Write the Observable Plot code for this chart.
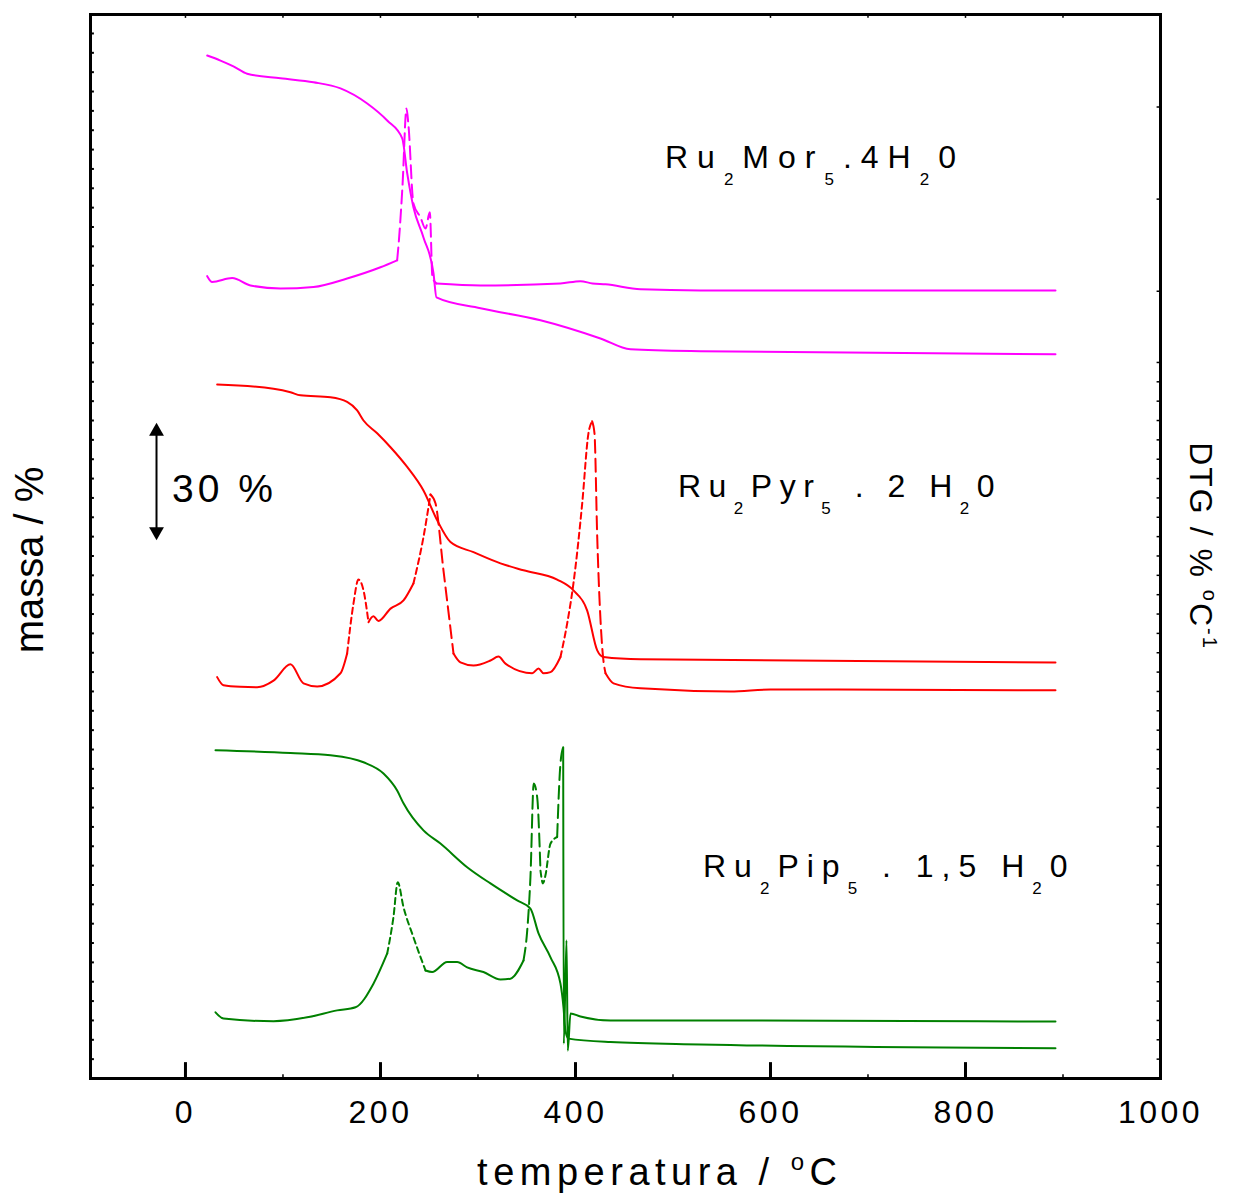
<!DOCTYPE html>
<html><head><meta charset="utf-8">
<script src="https://cdn.jsdelivr.net/npm/d3@7"></script>
<script src="https://cdn.jsdelivr.net/npm/@observablehq/plot@0.6"></script>
<style>
html,body{margin:0;padding:0;background:#fff;}
#chart svg{display:block;}
#chart g[aria-label="x-axis tick label"] text{letter-spacing:3.5px;}
#chart text{white-space:pre;}
</style></head><body><div id="chart"></div>
<script>
// temperature (°C) and signal (mass-% scale, curves offset vertically)
const morTG_T = [22.3,35.9,49.2,63.3,97.4,131.3,159,186.4,206.9,222.3,227.4,233.8,244.1,254.4,257.4,302.6,364.1,425.6,456.4,528.2,892.3];
const morTG_v = [264.3,263.0,261.5,259.6,258.4,257.4,255.8,251.9,247.5,242.9,233.9,225.1,217.3,208.0,201.8,199.0,195.9,191.2,188.4,187.9,187.1];

const morDTG_T = [22.3,27.4,47.9,66.7,97.4,131.3,165.8,200,217.1,218.9,222.6,226.7,228.7,233.8,241,246.2,250.6,253.3,257.4,302.6,384.6,405.1,417.4,430.8,466.7,528.2,892.3];
const morDTG_v = [207.3,205.8,206.8,204.9,204.1,204.5,206.7,209.6,211.4,216.5,230.7,250.6,246.3,226.1,222.5,219.6,223.8,207.0,205.4,204.9,205.4,206.0,205.4,205.2,203.9,203.6,203.6];
const morDTG_style = "ssssssss" + "DDDDDDDDDD" + "ssssssss";

const pyrTG_T = [32.5,90.3,107.7,117.9,148.7,165.8,176.1,182.6,196.6,210.3,227.4,244.1,258.2,271.8,295.4,323.1,346.7,381.2,397.9,412,422.3,428.7,466.7,892.3];
const pyrTG_v = [179.3,178.2,177.3,176.5,176.0,174.8,172.6,170.0,166.7,163.1,158.0,151.9,144.2,138.6,136.0,133.1,131.3,128.9,126.1,120.9,110.6,108.9,108.3,107.5];

const pyrDTG_T = [32.5,39,56.4,73.5,90.3,107.7,121,135.1,159,165.8,172.3,177.4,182.6,187.7,192.8,197.9,210.3,223.6,233.8,244.1,251.3,256.4,264.6,274.9,282,295.4,312.8,321,328.2,355.6,362.1,367.2,374.4,384.6,391.5,397.9,406.9,413.3,417.1,419.5,422.3,427.4,430.8,439,466.7,559,600,892.3];
const pyrDTG_v = [103.7,101.6,101.2,101.1,102.8,107.0,102.1,101.3,104.7,109.8,122.7,128.9,126.1,117.9,119.4,118.2,121.4,123.5,127.9,139.9,150.9,148.6,131.3,109.8,107.5,106.7,108.0,109.0,107.2,104.7,105.9,104.7,105.0,108.9,117.6,127.9,148.6,166.7,169.8,166.7,139.9,111.4,104.7,102.1,100.8,100.0,100.5,100.3];
const pyrDTG_style = "sssssssss" + "dddd" + "sssss" + "ddDDD" + "ssssssssss" + "ddddd" + "DDDD" + "sssss";

const pipTG_T = [30.8,107.7,148.7,182.6,203.1,217.1,223.6,244.1,261.5,288.9,312.8,340.2,353.8,362.1,374.4,384.6,387.7,389.7,392.8,435.9,528.2,892.3];
const pipTG_v = [84.8,84.1,83.5,81.7,78.8,74.4,71.1,64.1,60.7,54.6,50.4,46.0,43.9,37.5,31.3,24.5,18.4,12.4,10.3,9.4,8.8,7.8];

const pipDTG_T = [30.8,39,90.3,124.8,155.6,174.4,192.8,206.9,213.3,217.7,223.6,233.8,246.2,253,268.4,278.7,288.9,305.6,323.1,333.3,346.7,350.5,353.8,357.2,360.7,364.1,366.7,369.2,374.4,381.2,384.6,387.4,388,390.8,392.1,394.9,405.1,435.9,528.2,892.3];
const pipDTG_v = [17.1,15.5,14.8,15.8,17.6,18.4,24.5,32.3,41.7,50.7,44.3,36.5,27.9,27.5,30.1,30.1,28.7,27.5,25.6,25.8,30.5,38.2,52.0,76.2,72.7,53.7,50.4,52.5,60.7,62.4,81.4,85.6,9.0,35.7,7.2,16.8,16.0,15.0,15.0,14.7];
const pipDTG_style = "sssssss" + "ddddd" + "ssssssss" + "DDDDDddddDD" + "ssssssss";

const colors = {mor: "#ff00ff", pyr: "#ff0000", pip: "#008000"};

const xMajor = [0, 200, 400, 600, 800, 1000];
const xMinor = [100, 300, 500, 700, 900];
const xTop = [0, 100, 200, 300, 400, 500, 600, 700, 800, 900];
const leftTicks = d3.range(5, 275, 5);
const rightTicks = d3.range(5, 190, 5).concat([203.4, 227.2, 251.0]);

function pts(T, v) { return T.map((t, i) => ({T: t, v: v[i]})); }
function segs(T, v, style) {
  const out = [];
  let id = 0;
  for (let i = 0; i < T.length - 1; i++) {
    if (i > 0 && style[i] !== style[i - 1]) id++;
    if (i === 0 || style[i] !== style[i - 1]) out.push({T: T[i], v: v[i], seg: id, s: style[i]});
    out.push({T: T[i + 1], v: v[i + 1], seg: id, s: style[i]});
  }
  return out;
}
const dash = {s: null, d: "6,4", D: "13,6"};
function dtgMarks(T, v, style, color) {
  const data = segs(T, v, style);
  return ["s", "d", "D"].map(k => Plot.line(data.filter(d => d.s === k), {
    x: "T", y: "v", z: "seg", stroke: color, strokeWidth: 2, curve: "monotone-x",
    strokeDasharray: dash[k] || undefined
  }));
}

const xmin = -97.4, xmax = 1000, ymin = 0, ymax = 274.9;

const plot = Plot.plot({
  width: 1237, height: 1193,
  marginLeft: 90, marginRight: 77, marginTop: 14, marginBottom: 115,
  x: {domain: [xmin, xmax], axis: null},
  y: {domain: [ymin, ymax], axis: null},
  style: {fontFamily: "'Liberation Sans', Arial, sans-serif", background: "white", color: "black"},
  marks: [
    Plot.line(pts(morTG_T, morTG_v), {x: "T", y: "v", stroke: colors.mor, strokeWidth: 2, curve: "monotone-x"}),
    ...dtgMarks(morDTG_T, morDTG_v, morDTG_style, colors.mor),
    Plot.line(pts(pyrTG_T, pyrTG_v), {x: "T", y: "v", stroke: colors.pyr, strokeWidth: 2, curve: "monotone-x"}),
    ...dtgMarks(pyrDTG_T, pyrDTG_v, pyrDTG_style, colors.pyr),
    Plot.line(pts(pipTG_T, pipTG_v), {x: "T", y: "v", stroke: colors.pip, strokeWidth: 2, curve: "monotone-x"}),
    ...dtgMarks(pipDTG_T, pipDTG_v, pipDTG_style, colors.pip),
    // ticks
    Plot.ruleX(xMajor, {y1: ymin, y2: 4.1, stroke: "black", strokeWidth: 3}),
    Plot.ruleX(xMinor, {y1: ymin, y2: 1.0, stroke: "black", strokeWidth: 1.5}),
    Plot.ruleX(xTop, {y1: ymax, y2: ymax - 1.0, stroke: "black", strokeWidth: 1.5}),
    Plot.ruleY(leftTicks, {x1: xmin, x2: xmin + 4, stroke: "black", strokeWidth: 2}),
    Plot.ruleY(rightTicks, {x1: xmax, x2: xmax - 3.5, stroke: "black", strokeWidth: 1.5}),
    Plot.axisX({ticks: xMajor, tickSize: 0, tickPadding: 22, fontSize: 32, label: null, tickFormat: d => String(d)}),
    // 30 % scale bar
    Plot.ruleX([-29.7], {y1: 141.3, y2: 167.2, stroke: "black", strokeWidth: 2}),
    Plot.dot([{T: -29.7, v: 167.2, r: 0}, {T: -29.7, v: 141.3, r: 180}], {
      x: "T", y: "v", symbol: "triangle", r: 5.5, fill: "black", rotate: "r"
    }),
    Plot.frame({stroke: "black", strokeWidth: 3})
  ]
});

document.getElementById("chart").append(plot);

// rich-text annotations (sub/superscripts) positioned through the plot's scales
const sx = plot.scale("x"), sy = plot.scale("y");
const g = d3.select(plot).append("g").attr("font-family", "'Liberation Sans', Arial, sans-serif");
function rich(x, y, parts, o) {
  const t = g.append("text").attr("x", x).attr("y", y)
    .attr("font-size", o.size).attr("letter-spacing", o.ls || 0)
    .attr("text-anchor", o.anchor || "start").attr("fill", "black");
  if (o.rotate) t.attr("transform", `rotate(${o.rotate},${x},${y})`);
  let shift = 0;
  for (const [s, k] of parts) {
    const target = k === 1 ? o.subDy : k === 2 ? o.supDy : 0;
    t.append("tspan").attr("dy", target - shift)
      .attr("font-size", k ? o.smallSize : o.size).text(s);
    shift = target;
  }
}

const labelT = [492.3, 505.6, 531.3];
const labelV = [235.1, 150.1, 51.9];
const labelParts = [
  [["Ru",0],["2",1],["Mor",0],["5",1],[".4H",0],["2",1],["0",0]],
  [["Ru",0],["2",1],["Pyr",0],["5",1],[" . 2 H",0],["2",1],["0",0]],
  [["Ru",0],["2",1],["Pip",0],["5",1],[" . 1,5 H",0],["2",1],["0",0]]
];
const labelLS = [9, 7.5, 8];
labelParts.forEach((p, i) => rich(sx.apply(labelT[i]), sy.apply(labelV[i]), p,
  {size: 32, smallSize: 17, subDy: 17, ls: labelLS[i]}));

// 30 % scale-bar label
rich(sx.apply(-13.3), sy.apply(148.8), [["30 %",0]], {size: 39, ls: 4});

// axis titles
rich(sx.apply(487), 1185, [["temperatura / ",0],["o",2],["C",0]],
  {size: 38, smallSize: 24, supDy: -15, ls: 5.5, anchor: "middle"});
rich(43, 560, [["massa / %",0]], {size: 40, anchor: "middle", rotate: -90});
rich(1190, 546, [["DTG / % ",0],["o",2],["C",0],["-1",2]],
  {size: 32, smallSize: 20, supDy: -13, ls: 2, anchor: "middle", rotate: 90});
</script></body></html>
